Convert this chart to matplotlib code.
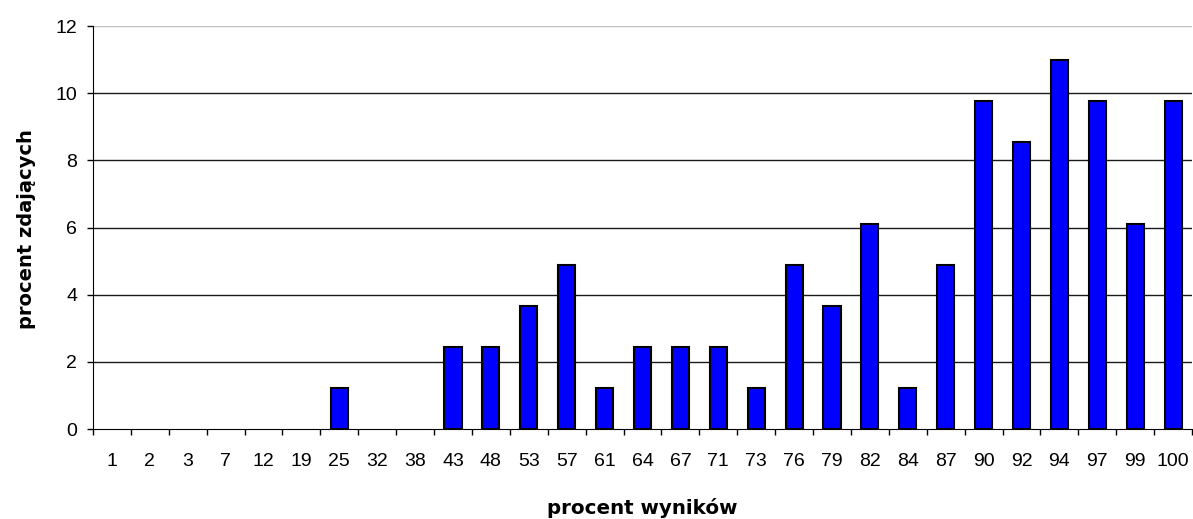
import matplotlib
matplotlib.use("Agg")
import matplotlib.pyplot as plt
import numpy as np

categories = ["1", "2", "3", "7", "12", "19", "25", "32", "38", "43", "48", "53", "57", "61",
              "64", "67", "71", "73", "76", "79", "82", "84", "87", "90", "92", "94", "97", "99", "100"]
values = [0, 0, 0, 0, 0, 0, 1.22, 0, 0, 2.44, 2.44, 3.66, 4.88, 1.22,
          2.44, 2.44, 2.44, 1.22, 4.88, 3.66, 6.10, 1.22, 4.88, 9.76, 8.54, 10.98, 9.76, 6.10, 9.76]
yticks = [0, 2, 4, 6, 8, 10, 12]

plt.rcParams['font.family'] = ['Liberation Sans', 'DejaVu Sans']

W, H = 1193, 519
fig = plt.figure(figsize=(W / 100, H / 100), dpi=100)
ax = fig.add_axes([93 / W, 1 - 429 / H, (1192 - 93) / W, (429 - 26) / H])

x = np.arange(len(categories))
edges = ["black" if v > 0 else "none" for v in values]
ax.bar(x, values, width=0.45, color="#0000FF", edgecolor=edges, linewidth=1.5, zorder=3)

ax.set_xlim(-0.5, len(categories) - 0.5)
ax.set_ylim(0, 12)
ax.set_yticks(yticks)
ax.set_yticklabels([str(t) for t in yticks], fontsize=14)
for t in yticks[1:]:
    ax.axhline(t, color="#1a1a1a" if t < 12 else "#c0c0c0", linewidth=1, zorder=1)

ax.set_xticks(np.arange(len(categories) + 1) - 0.5)
ax.set_xticklabels([])
ax.set_xticks(x, minor=True)
ax.set_xticklabels(categories, minor=True, fontsize=14)
ax.tick_params(axis='x', which='major', length=4.5, width=1, direction='out', color='black')
ax.tick_params(axis='x', which='minor', length=0, pad=17)
ax.tick_params(axis='y', length=4.5, width=1, direction='out', pad=7)

for s in ["top", "right"]:
    ax.spines[s].set_visible(False)
ax.spines["left"].set_color("black")
ax.spines["bottom"].set_color("black")

fig.text((93 + 1192) / 2 / W, 1 - 514 / H, "procent wyników", fontsize=14.3,
         fontweight="bold", family=["DejaVu Sans"], ha="center", va="baseline")
fig.text(27 / W, 1 - 229 / H, "procent zdających", fontsize=14,
         fontweight="bold", family=["DejaVu Sans"], ha="center", va="center", rotation=90)

fig.savefig("out.png", dpi=100)
